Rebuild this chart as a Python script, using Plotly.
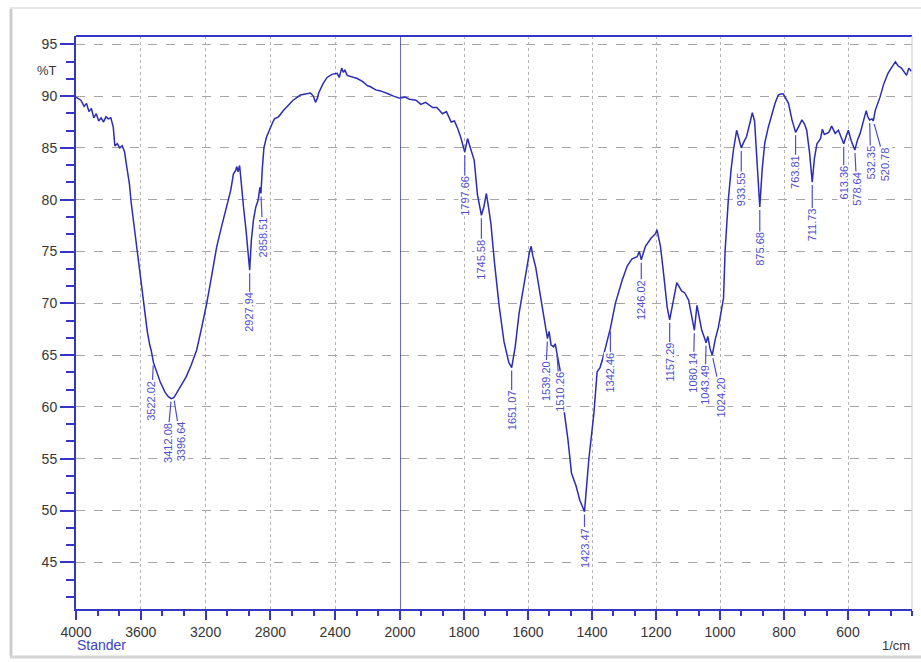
import numpy as np
import plotly.graph_objects as go

# ---------------- FTIR spectrum (wavenumber in 1/cm, transmittance in %T) ----------------
wavenumber = [
    4000, 3970, 3950, 3935, 3920, 3905, 3890, 3875, 3860, 3845, 3830, 3815, 3800, 3785,
    3770, 3760, 3745, 3730, 3715, 3700, 3690, 3680, 3670, 3660, 3650, 3630, 3615, 3595,
    3575, 3560, 3545, 3535, 3522.02, 3505, 3480, 3450, 3430, 3412.08, 3396.64, 3380, 3350,
    3320, 3290, 3255, 3225, 3193, 3160, 3131, 3100, 3069, 3045, 3028, 3015, 3007, 3000,
    2990, 2980, 2966, 2950, 2940, 2927.94, 2918, 2905, 2890, 2875, 2865, 2858.51, 2850,
    2840, 2825, 2801, 2785, 2775, 2750, 2720, 2698, 2660, 2615, 2580, 2553, 2535, 2522,
    2510, 2502, 2475, 2450, 2420, 2388, 2375, 2360, 2350, 2340, 2326, 2300, 2264, 2230,
    2200, 2182, 2150, 2120, 2100, 2070, 2040, 2000,
    1985, 1970, 1950, 1935, 1920, 1898, 1885, 1867, 1855, 1840, 1830, 1820, 1810, 1797.66,
    1789, 1780, 1768, 1758, 1745.58, 1738, 1730, 1722, 1716, 1705, 1690, 1675, 1660,
    1651.07, 1640, 1628, 1610, 1595, 1590, 1585, 1576, 1560, 1545, 1539.20, 1534, 1528,
    1520, 1515, 1510.26, 1500, 1490, 1475, 1464, 1450, 1438, 1423.47, 1410, 1394, 1384,
    1375, 1368, 1355, 1342.46, 1327, 1306, 1290, 1275, 1259, 1252, 1246.02, 1233, 1215,
    1202, 1197, 1186, 1175, 1165, 1157.29, 1148, 1135, 1120, 1110, 1098, 1088, 1080.14,
    1072, 1065, 1057, 1050, 1043.49, 1038, 1031, 1024.20, 1015, 1005, 995, 989, 984, 974,
    965, 958, 948, 940, 933.55, 925, 917, 905, 899, 892, 885, 875.68, 868, 860, 849, 838,
    828, 818, 810, 802, 795, 786, 775, 763.81, 755, 744, 736, 729, 720, 711.73, 705, 697,
    686, 680, 674, 660, 651, 645, 640, 630, 620, 613.36, 605, 599, 590, 578.64, 570, 562,
    550, 543, 538, 532.35, 525, 520.78, 515, 500, 488, 475, 465, 452, 443, 433, 417, 410,
    402,
]
transmittance = [
    89.9, 89.6, 89.0, 89.3, 88.5, 88.8, 87.9, 88.3, 87.6, 87.9, 87.5, 88.0, 87.8, 87.9,
    87.0, 85.2, 85.4, 85.0, 85.2, 84.6, 83.5, 82.4, 81.5, 79.8, 78.5, 76.5, 74.5, 71.8,
    69.0, 67.3, 66.0, 65.4, 64.3, 63.6, 62.4, 61.4, 61.0, 60.8, 60.9, 61.3, 62.1,
    62.9, 64.0, 65.5, 67.6, 70.0, 72.9, 75.5, 77.5, 79.3, 80.9, 82.5, 82.8, 83.2, 82.7,
    83.3, 81.5, 79.3, 77.0, 75.0, 73.2, 76.0, 78.0, 79.3, 80.0, 81.2, 80.6, 83.0,
    85.0, 86.0, 87.0, 87.5, 87.8, 88.0, 88.6, 89.0, 89.6, 90.1, 90.2, 90.3, 90.0, 89.4,
    89.8, 90.3, 91.2, 91.8, 92.1, 92.2, 91.8, 92.7, 92.3, 92.5, 92.0, 91.9, 91.7, 91.4,
    91.0, 90.9, 90.6, 90.5, 90.4, 90.2, 90.0, 89.8,
    89.9, 89.7, 89.6, 89.2, 89.4, 88.9, 88.9, 88.3, 88.5, 87.5, 87.6, 86.9, 86.0, 84.6,
    85.9, 85.0, 83.8, 80.5, 78.5, 79.3, 80.6, 79.0, 77.7, 74.0, 69.7, 66.3, 64.3,
    63.8, 65.8, 69.0, 72.5, 75.0, 75.5, 74.6, 73.5, 70.5, 67.7, 66.6, 67.3, 66.0,
    65.8, 66.1, 65.3, 63.6, 60.3, 56.8, 53.6, 52.4, 51.0, 49.9, 54.9, 59.4, 63.4,
    63.8, 64.5, 66.2, 67.6, 70.0, 72.2, 73.6, 74.3, 74.5, 75.0, 74.2, 75.5, 76.3,
    76.7, 77.1, 75.5, 72.5, 69.6, 68.4, 69.8, 72.0, 71.2, 71.0, 70.3, 68.5, 67.4,
    69.8, 68.8, 67.4, 66.8, 66.2, 66.8, 65.6, 65.0, 66.5, 67.7, 69.7, 70.5, 75.1, 80.0,
    83.0, 84.8, 86.7, 85.8, 85.0, 85.6, 86.1, 87.6, 88.4, 87.6, 83.5, 79.3, 83.0, 85.5,
    87.0, 88.3, 89.3, 90.1, 90.2, 90.2, 89.8, 89.3, 87.7, 86.5, 87.0, 87.7, 87.3, 86.7,
    84.5, 81.7, 84.0, 85.4, 85.9, 86.8, 86.3, 86.5, 87.1, 86.7, 86.4, 86.7, 86.0, 85.4,
    86.2, 86.7, 85.7, 84.8, 85.8, 86.4, 87.8, 88.6, 88.0, 87.7, 87.8, 87.6, 88.6, 89.9,
    91.2, 92.2, 92.7, 93.3, 92.9, 92.7, 92.0, 92.7, 92.4,
]

# Labelled band positions (1/cm)
peak_positions = [
    3522.02, 3412.08, 3396.64, 2927.94, 2858.51, 1797.66, 1745.58, 1651.07, 1539.20,
    1510.26, 1423.47, 1342.46, 1246.02, 1157.29, 1080.14, 1043.49, 1024.20, 933.55,
    875.68, 763.81, 711.73, 613.36, 578.64, 532.35, 520.78,
]

# Axis ticks
y_ticks = [45, 50, 55, 60, 65, 70, 75, 80, 85, 90, 95]
x_ticks_high = [4000, 3600, 3200, 2800, 2400, 2000]
x_ticks_low = [1800, 1600, 1400, 1200, 1000, 800, 600]

# ---------------- styling / geometry ----------------
W, H = 921, 662
ML, MR, MT, MB = 76, 9, 36, 53
PW, PH = W - ML - MR, H - MT - MB
SPLIT = 324 / PW  # 4000-2000 is drawn at half the scale of 2000-400

CURVE = "#2c2cb4"
AXIS = "#3636c4"
LABEL = "#4f4fcc"
FONT = "Liberation Sans, Arial, sans-serif"
TICKFONT = dict(family=FONT, size=14, color="#363636")


def px_x(px):
    return (px - ML) / PW


def px_y(py):
    return 1 - (py - MT) / PH


wn = np.array(wavenumber, dtype=float)
tr = np.array(transmittance, dtype=float)
hi = wn >= 2000
lo = wn <= 2000

fig = go.Figure()
fig.add_trace(go.Scatter(x=wn[hi], y=tr[hi], xaxis="x", yaxis="y", mode="lines",
                         line=dict(color=CURVE, width=1.5), hoverinfo="skip"))
fig.add_trace(go.Scatter(x=wn[lo], y=tr[lo], xaxis="x2", yaxis="y", mode="lines",
                         line=dict(color=CURVE, width=1.5), hoverinfo="skip"))

common_x = dict(
    ticks="outside", ticklen=9, tickwidth=1.5, tickcolor=AXIS,
    showline=True, linecolor=AXIS, linewidth=2,
    showgrid=True, gridcolor="#b4b4b4", gridwidth=1, griddash="dot",
    zeroline=False, tickfont=TICKFONT, anchor="y", automargin=False,
)

fig.update_layout(
    width=W, height=H, autosize=False,
    margin=dict(l=ML, r=MR, t=MT, b=MB, autoexpand=False),
    paper_bgcolor="white", plot_bgcolor="white",
    showlegend=False,
    xaxis=dict(domain=[0, SPLIT], range=[4000, 2000], tickvals=x_ticks_high,
               minor=dict(tick0=4000, dtick=400 / 3, ticks="outside", ticklen=5,
                          tickwidth=1.5, tickcolor=AXIS, showgrid=False),
               **common_x),
    xaxis2=dict(domain=[SPLIT, 1], range=[2000, 400], tickvals=x_ticks_low,
                minor=dict(tick0=2000, dtick=200 / 3, ticks="outside", ticklen=5,
                           tickwidth=1.5, tickcolor=AXIS, showgrid=False),
                **common_x),
    yaxis=dict(domain=[0, 1], range=[40.5, 95.8], tickvals=y_ticks, anchor="x",
               ticks="outside", ticklen=14, tickwidth=1.5, tickcolor=AXIS,
               minor=dict(tick0=45, dtick=5 / 3, ticks="outside", ticklen=8,
                          tickwidth=1.5, tickcolor=AXIS, showgrid=False),
               showline=True, linecolor=AXIS, linewidth=2, automargin=False,
               showgrid=True, gridcolor="#a6a6a6", gridwidth=1, griddash="dash",
               zeroline=False, tickfont=TICKFONT),
)

shapes = [
    # plot frame: top edge, 2000 divider, right edge
    dict(type="line", xref="paper", yref="paper", x0=0, x1=1, y0=1, y1=1,
         line=dict(color=AXIS, width=2)),
    dict(type="line", xref="x2", yref="paper", x0=2000, x1=2000, y0=0, y1=1,
         line=dict(color=AXIS, width=1.5)),
    dict(type="line", xref="paper", yref="paper", x0=1, x1=1, y0=0, y1=1,
         line=dict(color="#c9c9e4", width=1)),
    # picture border with soft shadow
    dict(type="line", xref="paper", yref="paper", x0=px_x(11), x1=px_x(11),
         y0=px_y(9), y1=px_y(656), line=dict(color="#cdcdcd", width=3)),
    dict(type="line", xref="paper", yref="paper", x0=px_x(10), x1=px_x(921),
         y0=px_y(8), y1=px_y(8), line=dict(color="#e8e8e8", width=2)),
    dict(type="line", xref="paper", yref="paper", x0=px_x(10), x1=px_x(921),
         y0=px_y(657), y1=px_y(657), line=dict(color="#d4d4d4", width=3)),
]
fig.update_layout(shapes=shapes)

# leader offsets (pixels) for the band labels
label_dx = [-2, -4, 7, 0, 2, 0, 0, 0, -2, 3, 0, 0, 0, 0, -1, -1, 9, 0, 0, 0, 0, 0, 2, 1, 12]
label_dy = [38, 44, 44, 42, 44, 44, 44, 43, 42, 40, 36, 44, 40, 42, 42, 42, 42, 41, 42,
            40, 43, 39, 39, 43, 43]

order = np.argsort(wn)
annotations = []
for pos, dx, dy in zip(peak_positions, label_dx, label_dy):
    yv = float(np.interp(pos, wn[order], tr[order]))
    annotations.append(dict(
        x=pos, y=yv, xref="x" if pos > 2000 else "x2", yref="y",
        text=f"{pos:.2f}", textangle=-90,
        showarrow=True, arrowhead=0, arrowwidth=1.2, arrowcolor=LABEL,
        ax=dx, ay=dy, standoff=3,
        font=dict(family=FONT, size=11, color=LABEL),
        bgcolor="white", borderpad=0,
    ))

annotations += [
    dict(text="%T", xref="paper", yref="paper", x=px_x(59), y=px_y(71),
         xanchor="right", yanchor="middle", showarrow=False,
         font=dict(family=FONT, size=13, color="#363636")),
    dict(text="Stander", xref="paper", yref="paper", x=px_x(75), y=px_y(635),
         xanchor="left", yanchor="top", showarrow=False,
         font=dict(family=FONT, size=14, color="#4040c4")),
    dict(text="1/cm", xref="paper", yref="paper", x=px_x(912), y=px_y(636),
         xanchor="right", yanchor="top", showarrow=False,
         font=dict(family=FONT, size=13, color="#363636")),
]
fig.update_layout(annotations=annotations)

fig.write_html(
    "out.html",
    config={"responsive": False},
    post_script="document.body.style.margin='0';document.body.style.overflow='hidden';",
)
